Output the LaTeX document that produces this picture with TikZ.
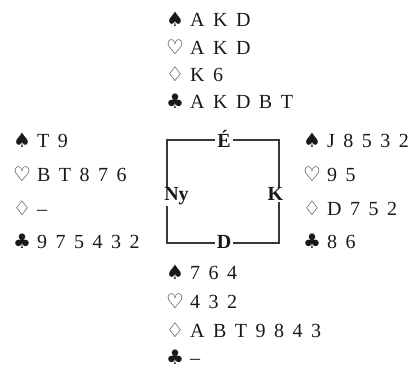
\documentclass[tikz,border=0pt]{standalone}
\usepackage{fontspec}
\setmainfont{Liberation Serif}
\newfontfamily\suitfont{DejaVu Sans}
\newcommand{\SP}{{\suitfont\fontsize{20}{20}\selectfont ♠}\hspace{6pt}}
\newcommand{\HE}{{\suitfont\fontsize{20}{20}\selectfont ♡}\hspace{6pt}}
\newcommand{\DI}{{\suitfont\fontsize{20}{20}\selectfont ♢}\hspace{6pt}}
\newcommand{\CL}{{\suitfont\fontsize{20}{20}\selectfont ♣}\hspace{6pt}}
\newcommand{\cg}{\hspace{8.5pt}}
\begin{document}
\begin{tikzpicture}[x=1pt,y=-1pt,
  hand/.style={anchor=base west,inner sep=0pt,font=\fontsize{20}{20}\selectfont,text=black!90},
  seat/.style={anchor=base,inner xsep=2pt,inner ysep=1pt,fill=white,font=\bfseries\fontsize{20}{20}\selectfont,text=black!90},
  boxline/.style={draw=black!78,line width=1.3pt}]
\useasboundingbox (0,0) rectangle (413,371);
% North
\node[hand] (n1) at (166,27) {\SP A\cg K\cg D};
\node[hand] (n2) at (166,55) {\HE A\cg K\cg D};
\node[hand] (n3) at (166,82) {\DI K\cg 6};
\node[hand] (n4) at (166,109) {\CL A\cg K\cg D\cg B\cg T};
% West
\node[hand] (w1) at (13,148) {\SP T\cg 9};
\node[hand] (w2) at (13,182) {\HE B\cg T\cg 8\cg 7\cg 6};
\node[hand] (w3) at (13,216) {\DI –};
\node[hand] (w4) at (13,249) {\CL 9\cg 7\cg 5\cg 4\cg 3\cg 2};
% East
\node[hand] (e1) at (303,148) {\SP J\cg 8\cg 5\cg 3\cg 2};
\node[hand] (e2) at (303,182) {\HE 9\cg 5};
\node[hand] (e3) at (303,216) {\DI D\cg 7\cg 5\cg 2};
\node[hand] (e4) at (303,249) {\CL 8\cg 6};
% South
\node[hand] (s1) at (166,280) {\SP 7\cg 6\cg 4};
\node[hand] (s2) at (166,309) {\HE 4\cg 3\cg 2};
\node[hand] (s3) at (166,338) {\DI A\cg B\cg T\cg 9\cg 8\cg 4\cg 3};
\node[hand] (s4) at (166,365) {\CL –};
% Table
\coordinate (tl) at (167,140);
\coordinate (br) at (279,243);
\draw[boxline] (tl) rectangle (br);
\node[seat] (N) at (224,148) {É};
\node[seat] (S) at (224,249) {D};
\node[seat] (W) at (176.5,201) {Ny};
\node[seat] (E) at (275.5,201) {K};
\end{tikzpicture}
\end{document}
